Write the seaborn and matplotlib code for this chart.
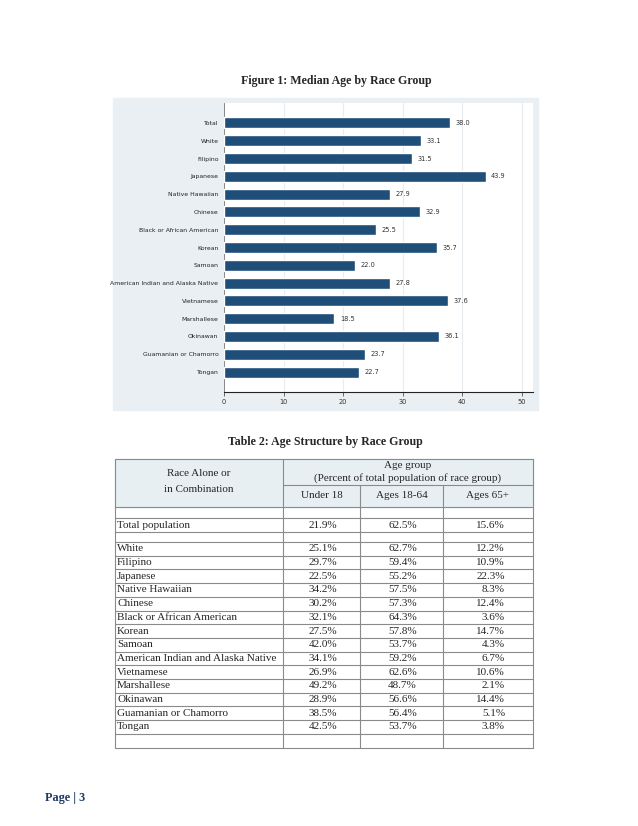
import numpy as np
import seaborn as sns
from matplotlib import pyplot as plt
from matplotlib.patches import Rectangle

groups = ['Total', 'White', 'Filipino', 'Japanese', 'Native Hawaiian', 'Chinese',
          'Black or African American', 'Korean', 'Samoan',
          'American Indian and Alaska Native', 'Vietnamese', 'Marshallese',
          'Okinawan', 'Guamanian or Chamorro', 'Tongan']
median_age = [38.0, 33.1, 31.5, 43.9, 27.9, 32.9, 25.5, 35.7, 22.0, 27.8, 37.6, 18.5, 36.1, 23.7, 22.7]
x_ticks = [0, 10, 20, 30, 40, 50]

table_groups = ['White', 'Filipino', 'Japanese', 'Native Hawaiian', 'Chinese',
                'Black or African American', 'Korean', 'Samoan',
                'American Indian and Alaska Native', 'Vietnamese', 'Marshallese',
                'Okinawan', 'Guamanian or Chamorro', 'Tongan']
total_row = ['21.9%', '62.5%', '15.6%']
under_18 = ['25.1%', '29.7%', '22.5%', '34.2%', '30.2%', '32.1%', '27.5%', '42.0%',
            '34.1%', '26.9%', '49.2%', '28.9%', '38.5%', '42.5%']
ages_18_64 = ['62.7%', '59.4%', '55.2%', '57.5%', '57.3%', '64.3%', '57.8%', '53.7%',
              '59.2%', '62.6%', '48.7%', '56.6%', '56.4%', '53.7%']
ages_65 = ['12.2%', '10.9%', '22.3%', '8.3%', '12.4%', '3.6%', '14.7%', '4.3%',
           '6.7%', '10.6%', '2.1%', '14.4%', '5.1%', '3.8%']
age_cols = ['Under 18', 'Ages 18-64', 'Ages 65+']

sns.set_style('white')
W, H = 638, 826
fig = plt.figure(figsize=(W / 100, H / 100), dpi=100)

# page overlay in pixel coordinates (titles, chart panel, table), drawn below the chart
tx = fig.add_axes([0, 0, 1, 1], zorder=0)
tx.set_xlim(0, W)
tx.set_ylim(H, 0)
tx.axis('off')
tx.patch.set_alpha(0)
tx.add_patch(Rectangle((113, 98), 425, 312, color='#e9eff2', zorder=0))

ax = fig.add_axes([224 / W, 1 - 392 / H, (533 - 224) / W, (392 - 103) / H], zorder=2)
ax.set_facecolor('white')
sns.barplot(x=median_age, y=groups, color='#1f4e79', orient='h', width=0.62,
            saturation=1, ax=ax, zorder=3)
ax.bar_label(ax.containers[0], fmt='%.1f', padding=4, fontsize=4.8, color='#333333')
ax.set_xlim(0, 51.85)
ax.set_ylim(15.12, -1.12)
ax.set_xticks(x_ticks)
ax.set_xticklabels([str(t) for t in x_ticks], fontsize=4.8, color='#333333')
ax.tick_params(axis='x', length=3, width=0.5, color='#333333', pad=2, bottom=True)
ax.tick_params(axis='y', length=0, labelsize=4.4, labelcolor='#222222', pad=4)
ax.grid(axis='x', color='#e6ecef', lw=0.8, zorder=0)
ax.set_xlabel('')
ax.set_ylabel('')
for s in ['top', 'right']:
    ax.spines[s].set_visible(False)
ax.spines['left'].set_color('#777777')
ax.spines['left'].set_linewidth(0.6)
ax.spines['bottom'].set_color('#222222')
ax.spines['bottom'].set_linewidth(0.8)

serif = 'Liberation Serif'
tx.text(336, 81, 'Figure 1: Median Age by Race Group', ha='center', va='center',
        family=serif, weight='bold', fontsize=8.6)
tx.text(325, 442, 'Table 2: Age Structure by Race Group', ha='center', va='center',
        family=serif, weight='bold', fontsize=8.6)
tx.text(45, 798, 'Page | 3', ha='left', va='center', family=serif, weight='bold',
        fontsize=8.8, color='#1f3864')

# table layout
left, right = 115, 533
cols = [115, 283, 360, 443, 533]
top, sub, head_bot = 459, 485, 507
line_c = '#8a8a8a'
tx.add_patch(Rectangle((left, top), right - left, head_bot - top, color='#e8eff3', zorder=0))

row_edges = [head_bot, 518, 532, 542]
row_h = 13.7
for i in range(len(table_groups) + 1):
    row_edges.append(542 + (i + 1) * row_h)

for y in [top, head_bot] + row_edges[1:]:
    tx.plot([left, right], [y, y], color=line_c, lw=0.8)
tx.plot([cols[1], right], [sub, sub], color=line_c, lw=0.8)
for x in [cols[0], cols[-1]]:
    tx.plot([x, x], [top, row_edges[-1]], color=line_c, lw=0.8)
tx.plot([cols[1], cols[1]], [top, row_edges[-1]], color=line_c, lw=0.8)
for x in cols[2:4]:
    tx.plot([x, x], [sub, row_edges[-1]], color=line_c, lw=0.8)

fs = 8
tx.text(199, 474, 'Race Alone or', ha='center', va='center', family=serif, fontsize=fs)
tx.text(199, 490, 'in Combination', ha='center', va='center', family=serif, fontsize=fs)
tx.text(408, 466, 'Age group', ha='center', va='center', family=serif, fontsize=fs)
tx.text(408, 478, '(Percent of total population of race group)', ha='center', va='center',
        family=serif, fontsize=fs)
for j, c in enumerate(age_cols):
    tx.text((cols[j + 1] + cols[j + 2]) / 2, 496, c, ha='center', va='center',
            family=serif, fontsize=fs)

num_x = [337, 417, 505]
ty = (row_edges[1] + row_edges[2]) / 2
tx.text(117, ty, 'Total population', ha='left', va='center', family=serif, fontsize=fs)
for j, v in enumerate(total_row):
    tx.text(num_x[j], ty, v, ha='right', va='center', family=serif, fontsize=fs)

for i, g in enumerate(table_groups):
    y = 542 + (i + 0.5) * row_h
    tx.text(117, y, g, ha='left', va='center', family=serif, fontsize=fs)
    for j, col in enumerate([under_18, ages_18_64, ages_65]):
        tx.text(num_x[j], y, col[i], ha='right', va='center', family=serif, fontsize=fs)

fig.savefig('out.png', dpi=100)
